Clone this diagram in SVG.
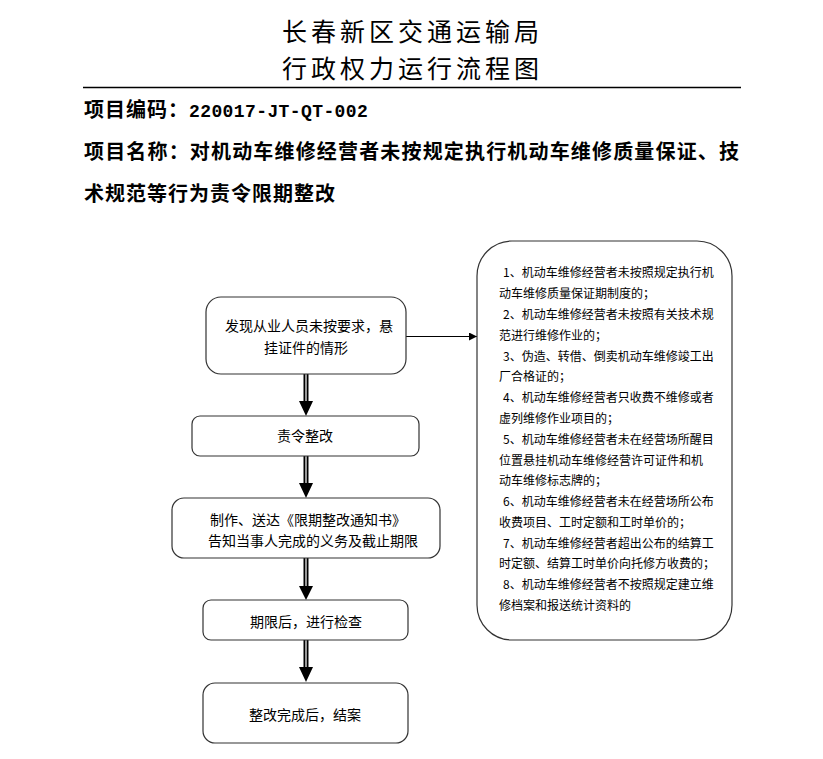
<svg xmlns="http://www.w3.org/2000/svg" width="823" height="759" viewBox="0 0 823 759">
<defs>
<style>
.title{font-family:"Noto Sans CJK SC","Noto Sans",sans-serif;font-size:25px;letter-spacing:4px;fill:#000}
.head{font-family:"Noto Sans CJK SC","Noto Sans",sans-serif;font-size:20px;font-weight:bold;letter-spacing:1px;fill:#000}
.mono{font-family:"Liberation Mono",monospace;font-size:18px;font-weight:bold;letter-spacing:0.4px}
.box{fill:#fff;stroke:#333;stroke-width:1.2}
.bt{font-family:"Noto Sans CJK SC","Noto Sans",sans-serif;font-size:14px;fill:#000}
.ct{text-anchor:middle}
.rt{font-family:"Noto Sans CJK SC","Noto Sans",sans-serif;font-size:12px;fill:#000}
.shaft{stroke:#000;stroke-width:5;fill:none}
.gap{stroke:#fff;stroke-width:1.2;fill:none}
</style>
<marker id="ah" viewBox="0 0 10 10" refX="10" refY="5" markerWidth="9" markerHeight="8" markerUnits="userSpaceOnUse" orient="auto"><path d="M0,0 L10,5 L0,10 z" fill="#000"/></marker>
</defs>
<rect width="823" height="759" fill="#fff"/>
<g id="header">
<text class="title" x="282" y="41">长春新区交通运输局</text>
<text class="title" x="282" y="78">行政权力运行流程图</text>
<line x1="83" y1="87.5" x2="741" y2="87.5" stroke="#000" stroke-width="1.5"/>
<text class="head" x="84" y="117">项目编码：<tspan class="mono">220017-JT-QT-002</tspan></text>
<text class="head" x="84" y="159" textLength="656" lengthAdjust="spacing">项目名称：对机动车维修经营者未按规定执行机动车维修质量保证、技</text>
<text class="head" x="84" y="201">术规范等行为责令限期整改</text>
</g>
<g id="connectors">
<line class="shaft" x1="306" y1="374" x2="306" y2="402"/><line class="gap" x1="306" y1="374" x2="306" y2="402"/>
<polygon points="299,401 313,401 306,416" fill="#000"/>
<line class="shaft" x1="306" y1="456" x2="306" y2="484"/><line class="gap" x1="306" y1="456" x2="306" y2="484"/>
<polygon points="299,483 313,483 306,498" fill="#000"/>
<line class="shaft" x1="306" y1="558" x2="306" y2="587"/><line class="gap" x1="306" y1="558" x2="306" y2="587"/>
<polygon points="299,586 313,586 306,600" fill="#000"/>
<line class="shaft" x1="306" y1="640" x2="306" y2="668"/><line class="gap" x1="306" y1="640" x2="306" y2="668"/>
<polygon points="299,667 313,667 306,682" fill="#000"/>
<line x1="406" y1="336.5" x2="477" y2="336.5" stroke="#000" stroke-width="1.2" marker-end="url(#ah)"/>
</g>
<g id="n1">
<rect class="box" x="206" y="297" width="200" height="77" rx="15"/>
<text class="bt ct" x="309" y="331">发现从业人员未按要求，悬</text>
<text class="bt ct" x="306" y="353">挂证件的情形</text>
</g>
<g id="n2">
<rect class="box" x="192" y="416" width="227" height="40" rx="8"/>
<text class="bt ct" x="305" y="441">责令整改</text>
</g>
<g id="n3">
<rect class="box" x="172" y="498" width="268" height="60" rx="12"/>
<text class="bt" x="210" y="525">制作、送达《限期整改通知书》</text>
<text class="bt" x="208" y="546">告知当事人完成的义务及截止期限</text>
</g>
<g id="n4">
<rect class="box" x="203" y="600" width="205" height="40" rx="8"/>
<text class="bt ct" x="306" y="627">期限后，进行检查</text>
</g>
<g id="n5">
<rect class="box" x="203" y="683" width="205" height="60" rx="12"/>
<text class="bt ct" x="305" y="720">整改完成后，结案</text>
</g>
<g id="n6">
<rect class="box" x="477" y="241" width="255" height="399" rx="35"/>
<text class="rt" x="503" y="277">1、机动车维修经营者未按照规定执行机</text>
<text class="rt" x="499" y="298">动车维修质量保证期制度的；</text>
<text class="rt" x="503" y="319">2、机动车维修经营者未按照有关技术规</text>
<text class="rt" x="499" y="340">范进行维修作业的；</text>
<text class="rt" x="503" y="361">3、伪造、转借、倒卖机动车维修竣工出</text>
<text class="rt" x="499" y="381">厂合格证的；</text>
<text class="rt" x="503" y="402">4、机动车维修经营者只收费不维修或者</text>
<text class="rt" x="499" y="423">虚列维修作业项目的；</text>
<text class="rt" x="503" y="444">5、机动车维修经营者未在经营场所醒目</text>
<text class="rt" x="499" y="465">位置悬挂机动车维修经营许可证件和机</text>
<text class="rt" x="499" y="485">动车维修标志牌的；</text>
<text class="rt" x="503" y="506">6、机动车维修经营者未在经营场所公布</text>
<text class="rt" x="499" y="527">收费项目、工时定额和工时单价的；</text>
<text class="rt" x="503" y="548">7、机动车维修经营者超出公布的结算工</text>
<text class="rt" x="499" y="568">时定额、结算工时单价向托修方收费的；</text>
<text class="rt" x="503" y="589">8、机动车维修经营者不按照规定建立维</text>
<text class="rt" x="499" y="610">修档案和报送统计资料的</text>
</g>
</svg>
